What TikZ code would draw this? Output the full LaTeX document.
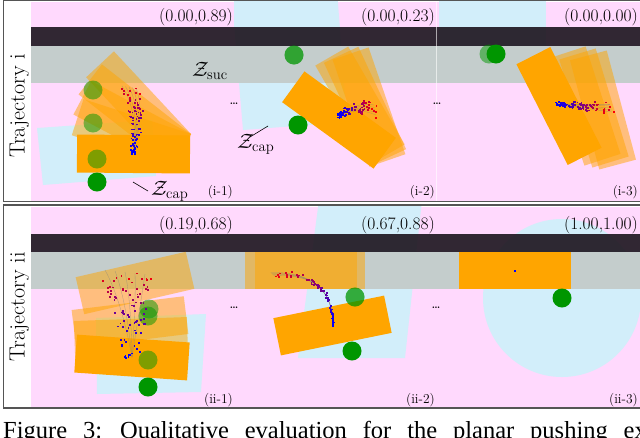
\documentclass[tikz,border=0pt]{standalone}
\usepackage{fontspec}
\newfontfamily\capfont{Liberation Serif}
\definecolor{bgpink}{RGB}{255,217,253}
\definecolor{capcyan}{RGB}{210,238,250}
\definecolor{barblack}{RGB}{32,24,34}
\definecolor{sucgrey}{RGB}{196,205,204}
\definecolor{objorange}{RGB}{255,165,0}
\definecolor{pushgreen}{RGB}{0,150,0}
\definecolor{framegrey}{RGB}{85,85,85}
\tikzset{
  panelbg/.style={fill=bgpink},
  capreg/.style={fill=capcyan},
  barfill/.style={fill=barblack, fill opacity=0.92},
  bandfill/.style={fill=sucgrey},
  objfill/.style={fill=objorange},
  ghostfill/.style={fill=objorange, fill opacity=0.5},
  pushfill/.style={fill=pushgreen},
  ghostpush/.style={fill=pushgreen, fill opacity=0.5},
  framebox/.style={draw=framegrey, line width=1.1},
  trajline/.style={draw=gray, line width=0.3, opacity=0.6},
  vallbl/.style={anchor=east, inner sep=0pt, font=\fontsize{17.5}{20}\selectfont},
  sublbl/.style={anchor=east, inner sep=0pt, font=\fontsize{13.5}{16}\selectfont},
  zlbl/.style={anchor=base west, inner sep=0pt, font=\fontsize{21}{24}\selectfont},
  trajlbl/.style={rotate=90, anchor=base, inner sep=0pt, font=\fontsize{22}{26}\selectfont},
  dotlbl/.style={inner sep=0pt, font=\fontsize{10}{12}\selectfont\bfseries},
  leader/.style={draw=black, line width=0.6},
}
\newcommand{\objrect}[4][objfill]{%
  \fill[#1, rotate around={-(#4):(#2,#3)}] ({#2-56.5},{#3-19}) rectangle ({#2+56.5},{#3+19});}
\newcommand{\pushdisk}[3][pushfill]{\fill[#1] (#2,#3) circle[radius=9.5];}
\newcommand{\swarm}[9]{%
  \pgfmathsetseed{#9}%
  \foreach \k in {1,...,85}{%
    \pgfmathsetmacro{\tp}{rnd^1.4}%
    \pgfmathsetmacro{\px}{(1-\tp)*(1-\tp)*(#1)+2*\tp*(1-\tp)*(#3)+\tp*\tp*(#5)+(#7)*(rnd-0.5)*(0.4+\tp)}%
    \pgfmathsetmacro{\py}{(1-\tp)*(1-\tp)*(#2)+2*\tp*(1-\tp)*(#4)+\tp*\tp*(#6)+(#8)*(rnd-0.5)*(0.4+\tp)}%
    \pgfmathtruncatemacro{\pc}{100*\tp}%
    \fill[red!\pc!blue] ({\px-0.9},{\py-0.9}) rectangle ({\px+0.9},{\py+0.9});
  }}
% quadratic path S-C-E written as its cubic equivalent, fanned out towards the end
\newcommand{\trails}[8]{%
  \foreach \o in {-0.5,-0.25,0,0.25,0.5}{%
    \draw[trajline] (#1,#2) .. controls ({#1+2/3*(#3+(\o)*(#7)*0.5-#1)},{#2+2/3*(#4+(\o)*(#8)*0.5-#2)})
      and ({#5+(\o)*(#7)+2/3*(#3+(\o)*(#7)*0.5-#5-(\o)*(#7))},{#6+(\o)*(#8)+2/3*(#4+(\o)*(#8)*0.5-#6-(\o)*(#8))})
      .. ({#5+(\o)*(#7)},{#6+(\o)*(#8)});
  }}
\begin{document}
\begin{tikzpicture}[x=1pt,y=-1pt]
\useasboundingbox (0,0) rectangle (640,437);
\fill[white] (0,0) rectangle (640,437);

%%%%%%%%%% Trajectory i %%%%%%%%%%
\fill[panelbg] (31,1.5) rectangle (641,200.5);
\begin{scope}
  \clip (31,1.5) rectangle (234,200.5);
  \fill[capreg] (37,128) -- (152,120) -- (156,176) -- (43,185) -- cycle;
\end{scope}
\begin{scope}
  \clip (234,1.5) rectangle (436,200.5);
  \fill[capreg] (231,-10) -- (337,-10) -- (347,122) -- (243,130) -- cycle;
\end{scope}
\begin{scope}
  \clip (436,1.5) rectangle (641,200.5);
  \fill[capreg] (439,-10) rectangle (546,60);
\end{scope}
\fill[barfill] (31,27) rectangle (641,46);
\fill[bandfill] (31,46) rectangle (641,83);

% (i-1)
\begin{scope}
  \clip (31,1.5) rectangle (234,200.5);
  \foreach \a in {47,38,28,18}{\fill[ghostfill, rotate around={-\a:(191,134)}] (78,134) rectangle (191,172);}
  \objrect{133.5}{154}{0.5}
  \pushdisk[ghostpush]{93}{90}
  \pushdisk[ghostpush]{93}{123}
  \pushdisk[ghostpush]{97}{159}
  \pushdisk{97}{182}
  \trails{133}{153}{142}{112}{129}{87}{14}{2}
  \swarm{133}{153}{142}{112}{129}{87}{16}{10}{11}
\end{scope}
% (i-2)
\begin{scope}
  \clip (234,1.5) rectangle (436,200.5);
  \objrect[ghostfill]{360}{105}{60}
  \objrect[ghostfill]{365}{106}{65}
  \objrect[ghostfill]{369}{107}{71}
  \objrect{339}{120}{36}
  \pushdisk[ghostpush]{294}{55}
  \pushdisk[ghostpush]{294}{55}
  \pushdisk{298}{125}
  \trails{339}{116}{356}{104}{375}{110}{2}{10}
  \swarm{339}{116}{356}{104}{375}{110}{6}{12}{7}
\end{scope}
% (i-3)
\begin{scope}
  \clip (436,1.5) rectangle (641,200.5);
  \objrect[ghostfill]{585}{106}{72}
  \objrect[ghostfill]{603}{110}{75}
  \objrect[ghostfill]{594}{108}{73}
  \objrect{559}{106}{63}
  \pushdisk[ghostpush]{489}{54}
  \pushdisk{496}{54}
  \trails{556}{104}{582}{106}{611}{108}{2}{8}
  \swarm{556}{104}{582}{106}{611}{108}{8}{9}{5}
\end{scope}
\draw[white, opacity=0.6, line width=0.5] (436,1.5) -- (436,200.5);

\node[vallbl] (v1) at (233,17) {(0.00,0.89)};
\node[vallbl] (v2) at (435,17) {(0.00,0.23)};
\node[vallbl] (v3) at (638,17) {(0.00,0.00)};
\node[sublbl] (s1) at (233,192.5) {(i-1)};
\node[sublbl] (s2) at (435,192.5) {(i-2)};
\node[sublbl] (s3) at (638,192.5) {(i-3)};
\node[zlbl] (zsuc) at (192,76) {$\mathcal{Z}_{\mathrm{suc}}$};
\node[zlbl] (zcapa) at (151,195) {$\mathcal{Z}_{\mathrm{cap}}$};
\node[zlbl] (zcapb) at (237,148) {$\mathcal{Z}_{\mathrm{cap}}$};
\coordinate (la1) at (133,182);
\coordinate (la2) at (148,191);
\coordinate (lb1) at (268,126);
\coordinate (lb2) at (250,137);
\draw[leader] (la1) -- (la2);
\draw[leader] (lb1) -- (lb2);
\node[dotlbl] (d1) at (234,104) {\ldots};
\node[dotlbl] (d2) at (437,104) {\ldots};
\node[trajlbl] (t1) at (24.5,106) {Trajectory i};
\draw[framebox] (3.5,0.6) rectangle (641,201.5);

%%%%%%%%%% Trajectory ii %%%%%%%%%%
\fill[panelbg] (31,206.5) rectangle (641,407);
\begin{scope}
  \clip (31,206.5) rectangle (234,407);
  \fill[capreg] (96,318) -- (206,314) -- (201,392) -- (97,394) -- cycle;
\end{scope}
\begin{scope}
  \clip (234,206.5) rectangle (436,407);
  \fill[capreg] (319,200) -- (422,200) -- (405,358) -- (298,358) -- cycle;
\end{scope}
\begin{scope}
  \clip (436,206.5) rectangle (641,407);
  \fill[capreg] (562,298) circle[radius=79];
\end{scope}
\fill[barfill] (31,234) rectangle (641,252);
\fill[bandfill] (31,252) rectangle (641,289);

% (ii-1)
\begin{scope}
  \clip (31,206.5) rectangle (234,407);
  \objrect[ghostfill]{135}{283}{-13}
  \objrect[ghostfill]{130}{322}{-7}
  \objrect[ghostfill]{131}{338}{-2}
  \objrect{132}{357.5}{4}
  \pushdisk[ghostpush]{149}{309}
  \pushdisk[ghostpush]{148}{316}
  \pushdisk[ghostpush]{148}{360}
  \pushdisk{148}{387}
  \trails{132}{357}{131}{300}{125}{272}{40}{4}
  \swarm{132}{357}{131}{300}{125}{272}{40}{8}{3}
\end{scope}
% (ii-2)
\begin{scope}
  \clip (234,206.5) rectangle (436,407);
  \fill[ghostfill] (245,252) rectangle (357,289);
  \fill[ghostfill] (255,252) rectangle (365,289);
  \objrect{332.5}{325.5}{-11.5}
  \pushdisk[ghostpush]{355}{297}
  \pushdisk[ghostpush]{355}{297}
  \pushdisk{352}{351}
  \trails{333}{327}{334}{272}{272}{274}{3}{3}
  \swarm{333}{327}{334}{272}{272}{274}{4}{5}{5}
\end{scope}
% (ii-3)
\begin{scope}
  \clip (436,206.5) rectangle (641,407);
  \fill[objfill] (459,252) rectangle (571,289);
  \pushdisk{562}{298}
  \fill[blue] (514,270) rectangle (516,272);
\end{scope}

\node[vallbl] (v4) at (233,225) {(0.19,0.68)};
\node[vallbl] (v5) at (435,225) {(0.67,0.88)};
\node[vallbl] (v6) at (638,225) {(1.00,1.00)};
\node[sublbl] (s4) at (233,400) {(ii-1)};
\node[sublbl] (s5) at (435,400) {(ii-2)};
\node[sublbl] (s6) at (638,400) {(ii-3)};
\node[dotlbl] (d3) at (234,308) {\ldots};
\node[dotlbl] (d4) at (436,308) {\ldots};
\node[trajlbl] (t2) at (24.5,307) {Trajectory ii};
\draw[framebox] (3.5,205) rectangle (641,408);

%%%%%%%%%% caption %%%%%%%%%%
\node[anchor=base west, inner sep=0pt, font=\capfont\fontsize{24.5}{28}\selectfont] (cap) at (3,438)
  {\spaceskip=15.9pt Figure 3: Qualitative evaluation for the planar pushing ex};
\end{tikzpicture}
\end{document}
